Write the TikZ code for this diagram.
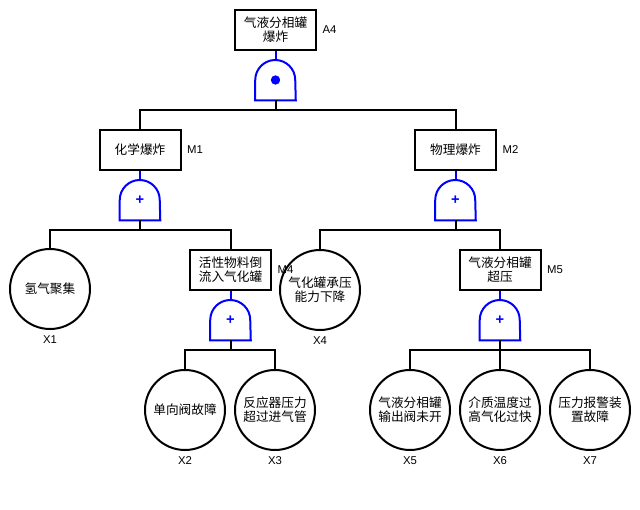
\documentclass[tikz,border=0pt]{standalone}
\usepackage{fontspec}
\setmainfont{Liberation Sans}
\newfontfamily\cjk{Noto Sans CJK SC}
\definecolor{ftBlue}{HTML}{0000FF}
\definecolor{ftLine}{HTML}{000000}
\usetikzlibrary{positioning}

\tikzset{
  event/.style={draw=ftLine, line width=1.5pt, rectangle, minimum width=60.75pt,
    minimum height=30pt, inner sep=0pt, align=center,
    font=\cjk\fontsize{9.5}{10.5}\selectfont},
  basic/.style={draw=ftLine, line width=1.5pt, circle, minimum size=60pt,
    inner sep=0pt, align=center, font=\cjk\fontsize{9.5}{10.5}\selectfont},
  gatebox/.style={minimum width=30pt, minimum height=30pt, inner sep=0pt,
    text=ftBlue, font=\bfseries\fontsize{11}{11}\selectfont},
  gateline/.style={draw=ftBlue, line width=1.5pt},
  link/.style={draw=ftLine, line width=1.5pt},
  tag/.style={font=\fontsize{8.5}{10}\selectfont, inner sep=1pt, label distance=3pt},
}

\begin{document}
\begin{tikzpicture}[x=0.75pt, y=-0.75pt]
  \useasboundingbox (0,0) rectangle (640,510);
  \fill[white] (0,0) rectangle (640,510);

  % Top event
  \node[event, label={[tag]east:A4}] (A4) at (275.5,30) {气液分相罐\\爆炸};
  \node[gatebox] (gA4) at (275.5,80) {};

  % -- Intermediate events --
  \node[event, label={[tag]east:M1}] (M1) at (140,150) {化学爆炸};
  \node[gatebox] (gM1) at (140,200) {+};
  \node[event, label={[tag]east:M2}] (M2) at (455.5,150) {物理爆炸};
  \node[gatebox] (gM2) at (455.5,200) {+};
  \node[event, label={[tag]east:M4}] (M4) at (230.5,270) {活性物料倒\\流入气化罐};
  \node[gatebox] (gM4) at (230.5,320) {+};
  \node[event, label={[tag]east:M5}] (M5) at (500,270) {气液分相罐\\超压};
  \node[gatebox] (gM5) at (500,320) {+};

  % -- Basic events --
  \node[basic, label={[tag]below:X1}] (X1) at (50,289) {氢气聚集};
  \node[basic, label={[tag]below:X4}] (X4) at (320,290) {气化罐承压\\能力下降};
  \node[basic, label={[tag]below:X2}] (X2) at (185,410) {单向阀故障};
  \node[basic, label={[tag]below:X3}] (X3) at (275,410) {反应器压力\\超过进气管};
  \node[basic, label={[tag]below:X5}] (X5) at (410,410) {气液分相罐\\输出阀未开};
  \node[basic, label={[tag]below:X6}] (X6) at (500,410) {介质温度过\\高气化过快};
  \node[basic, label={[tag]below:X7}] (X7) at (590,410) {压力报警装\\置故障};

  % Gate bodies
  \foreach \g in {gA4,gM1,gM2,gM4,gM5}
    \draw[gateline] (\g.south west) -- (\g.west)
      arc[start angle=180, end angle=0, radius=15pt] -- (\g.south east) -- cycle;
  \fill[ftBlue] (gA4) circle[radius=3.5pt];

  % Event to gate
  \foreach \m in {A4,M1,M2,M4,M5}
    \draw[gateline] (\m.south) -- (g\m.north);

  % Gate to inputs
  \foreach \g/\n in {gA4/M1, gA4/M2, gM1/X1, gM1/M4, gM2/X4, gM2/M5,
                     gM4/X2, gM4/X3, gM5/X5, gM5/X6, gM5/X7}
    \draw[link] (\g.south) -- ++(0,10) -| (\n.north);
\end{tikzpicture}
\end{document}
